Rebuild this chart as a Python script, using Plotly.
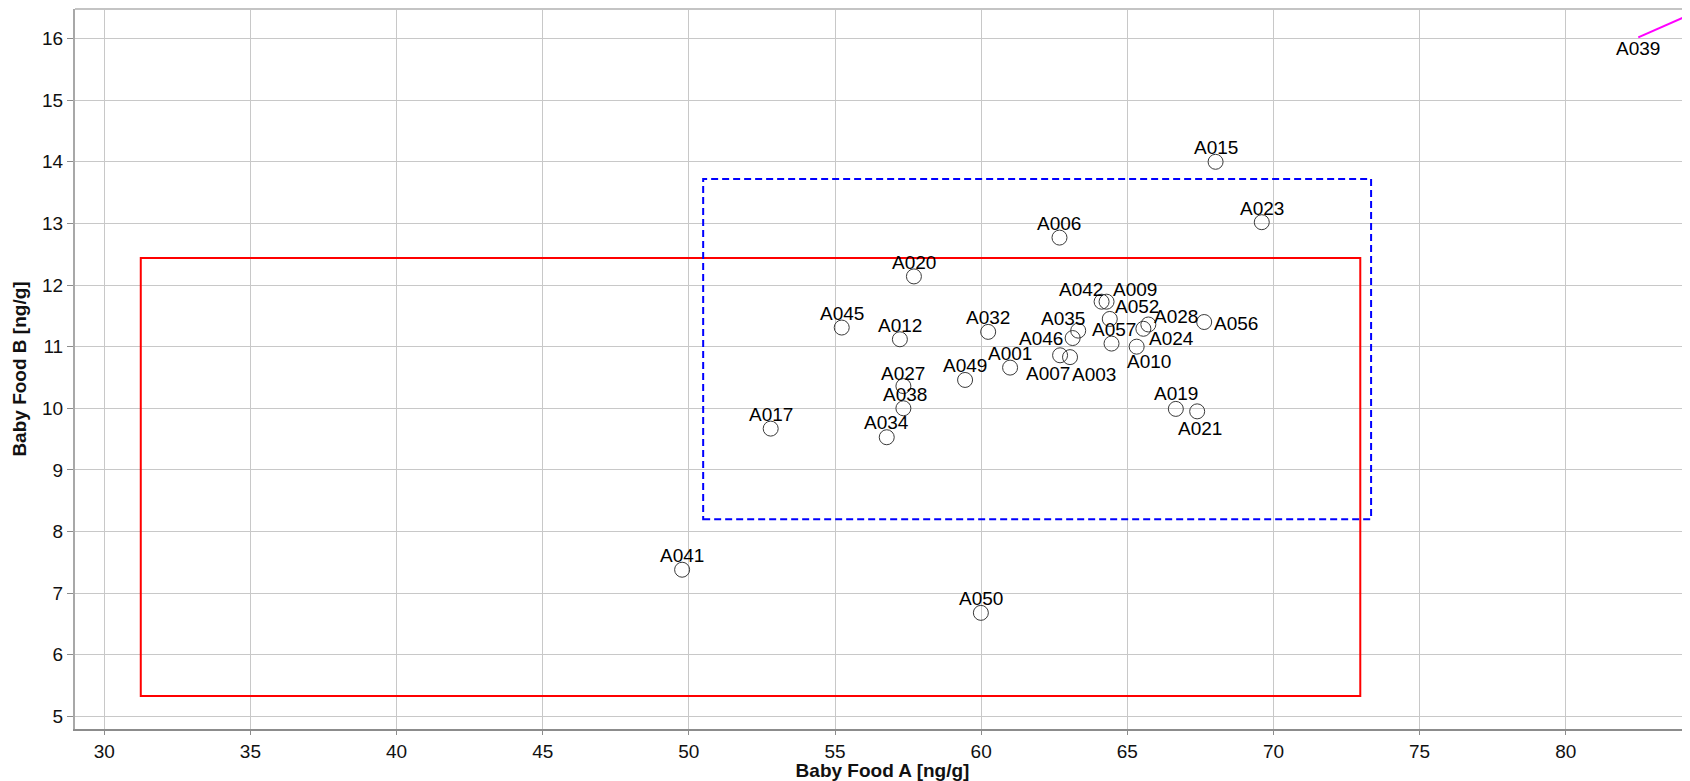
import plotly.graph_objects as go

# ---- data ----
sample_ids = ["A001", "A003", "A006", "A007", "A009", "A010", "A012", "A015", "A017", "A019",
              "A020", "A021", "A023", "A024", "A027", "A028", "A032", "A034", "A035", "A038",
              "A039", "A041", "A042", "A045", "A046", "A049", "A050", "A052", "A056", "A057"]
food_a = [60.99, 63.04, 62.68, 62.70, 64.29, 65.32, 57.22, 68.02, 52.80, 66.66,
          57.70, 67.39, 69.60, 65.55, 57.34, 65.72, 60.24, 56.77, 63.32, 57.34,
          88.00, 49.77, 64.12, 55.23, 63.13, 59.45, 59.99, 64.40, 67.63, 64.46]
food_b = [10.66, 10.83, 12.77, 10.86, 11.73, 11.00, 11.12, 14.00, 9.67, 9.99,
          12.14, 9.95, 13.02, 11.29, 10.36, 11.36, 11.24, 9.53, 11.26, 10.00,
          17.17, 7.38, 11.73, 11.31, 11.14, 10.46, 6.68, 11.45, 11.40, 11.05]

# limit boxes [x0, x1, y0, y1]
red_box = [31.25, 72.97, 5.33, 12.44]
blue_box = [50.49, 73.34, 8.20, 13.72]

x_ticks = [30, 35, 40, 45, 50, 55, 60, 65, 70, 75, 80]
y_ticks = [5, 6, 7, 8, 9, 10, 11, 12, 13, 14, 15, 16]

# ---- styles: label offsets in pixels (dx right, dy down) ----
label_offsets = {
    "A001": (0, -14), "A003": (24, 17), "A006": (0, -14), "A007": (-12, 18), "A009": (28, -12),
    "A010": (12, 15), "A012": (0, -14), "A015": (0, -14), "A017": (0, -14), "A019": (0, -15),
    "A020": (0, -14), "A021": (3, 17), "A023": (0, -14), "A024": (28, 10), "A027": (0, -13),
    "A028": (28, -8), "A032": (0, -14), "A034": (0, -15), "A035": (-15, -12), "A038": (2, -14),
    "A041": (0, -14), "A042": (-21, -12), "A045": (0, -14), "A046": (-32, 0), "A049": (0, -14),
    "A050": (0, -14), "A052": (27, -12), "A056": (32, 1), "A057": (2, -14),
}
outlier_label_anchor = (82.48, 16.02)  # where the leader line of A039 starts

FONT = "Arial, Liberation Sans, sans-serif"

fig = go.Figure()

fig.add_trace(go.Scatter(
    x=food_a, y=food_b, mode="markers",
    marker=dict(symbol="circle-open", size=15, color="#3a3a3a", line=dict(width=1, color="#3a3a3a")),
    text=sample_ids, hoverinfo="text", showlegend=False, cliponaxis=True,
))

# leader line to the off-scale point A039
i39 = sample_ids.index("A039")
fig.add_trace(go.Scatter(
    x=[outlier_label_anchor[0], food_a[i39]], y=[outlier_label_anchor[1], food_b[i39]],
    mode="lines", line=dict(color="#ff00ff", width=2), showlegend=False, hoverinfo="skip",
))

annotations = []
for sid, xa, yb in zip(sample_ids, food_a, food_b):
    if sid not in label_offsets:
        continue
    dx, dy = label_offsets[sid]
    annotations.append(dict(
        x=xa, y=yb, xref="x", yref="y", text=sid, showarrow=False,
        xanchor="center", yanchor="middle", xshift=dx, yshift=-dy,
        font=dict(family=FONT, size=19, color="#000000"),
    ))
annotations.append(dict(
    x=outlier_label_anchor[0], y=outlier_label_anchor[1], xref="x", yref="y", text="A039",
    showarrow=False, xanchor="center", yanchor="middle", yshift=-11,
    font=dict(family=FONT, size=19, color="#000000"),
))

shapes = [
    dict(type="rect", xref="x", yref="y", x0=red_box[0], x1=red_box[1], y0=red_box[2], y1=red_box[3],
         line=dict(color="#ff0000", width=2), fillcolor="rgba(0,0,0,0)"),
    dict(type="rect", xref="x", yref="y", x0=blue_box[0], x1=blue_box[1], y0=blue_box[2], y1=blue_box[3],
         line=dict(color="#0000ff", width=2, dash="7px,4px"), fillcolor="rgba(0,0,0,0)"),
    dict(type="line", xref="paper", yref="paper", x0=0, x1=1, y0=1, y1=1,
         line=dict(color="#c4c4c4", width=2)),
]

fig.update_layout(
    width=1682, height=773,
    margin=dict(l=67, r=0, t=1, b=52, autoexpand=False),
    paper_bgcolor="white", plot_bgcolor="white",
    font=dict(family=FONT, size=19, color="#111111"),
    annotations=annotations, shapes=shapes,
    xaxis=dict(
        range=[29.0, 84.25], tickvals=x_ticks, ticktext=[str(v) for v in x_ticks],
        showgrid=True, gridcolor="#c8c8c8", gridwidth=1, zeroline=False,
        showline=True, linecolor="#8c8c8c", linewidth=2,
        ticks="outside", ticklen=4, tickcolor="#8c8c8c", tickwidth=1,
        tickfont=dict(family=FONT, size=19, color="#111111"),
        title=dict(text="<b>Baby Food A [ng/g]</b>", font=dict(family=FONT, size=19, color="#111111"), standoff=10),
        automargin=False,
    ),
    yaxis=dict(
        range=[4.795, 16.48], tickvals=y_ticks, ticktext=[str(v) for v in y_ticks],
        showgrid=True, gridcolor="#c8c8c8", gridwidth=1, zeroline=False,
        showline=True, linecolor="#a8a8a8", linewidth=2,
        ticks="outside", ticklen=6, tickcolor="#8c8c8c", tickwidth=1,
        tickfont=dict(family=FONT, size=19, color="#111111"),
        title=dict(text="<b>Baby Food B [ng/g]</b>", font=dict(family=FONT, size=19, color="#111111"), standoff=10),
        automargin=False,
    ),
)

fig.write_html("out.html")
